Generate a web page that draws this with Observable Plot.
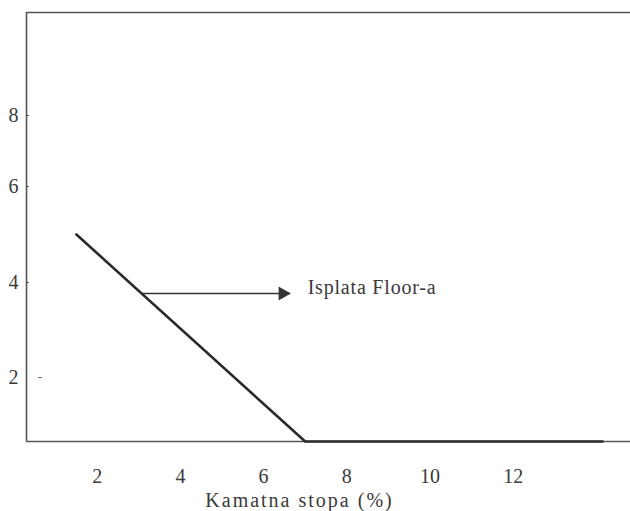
<!DOCTYPE html>
<html>
<head>
<meta charset="utf-8">
<script src="https://cdn.jsdelivr.net/npm/d3@7"></script>
<script src="https://cdn.jsdelivr.net/npm/@observablehq/plot@0.6"></script>
<style>
  html, body { margin: 0; padding: 0; background: white; }
</style>
</head>
<body>
<div id="chart"></div>
<script>
// Payoff of the floor vs. interest rate
const rates = [1.5, 7, 14.15];
const payoff = [5, 0, 0];

// Axis ticks
const xTicks = [2, 4, 6, 8, 10, 12];
const yTickLabels = [2, 4, 6, 8];
const yTickMarks = [4, 6, 8];
const yDash = [2];

// Annotation arrow
const arrowX1 = [3.06];
const arrowX2 = [6.65];
const arrowY = [3.77];
const arrowText = ["Isplata Floor-a"];

const xLabel = "Kamatna stopa (%)";

const lineData = rates.map((r, i) => ({rate: r, pay: payoff[i]}));
const arrowData = arrowX1.map((x1, i) => ({x1, x2: arrowX2[i], y: arrowY[i], text: arrowText[i]}));

const ink = "#333";
const frameInk = "#555";

const svg = Plot.plot({
  width: 630,
  height: 511,
  marginLeft: 26,
  marginRight: 0,
  marginTop: 12,
  marginBottom: 70,
  style: {fontFamily: "'Liberation Serif', 'DejaVu Serif', serif", fontSize: "20px", color: "#3a3a3a", background: "white"},
  x: {type: "linear", domain: [0.3, 14.82]},
  y: {type: "linear", domain: [0, 2, 4, 6, 8, 10], range: [441, 377, 282, 186, 115, 12]},
  marks: [
    Plot.ruleY([0, 10], {stroke: frameInk, strokeWidth: 1.6}),
    Plot.ruleX([0.3], {stroke: frameInk, strokeWidth: 1.6}),
    Plot.line(lineData, {x: "rate", y: "pay", stroke: "#2a2a2a", strokeWidth: 2.6}),
    Plot.ruleY(arrowData, {x1: "x1", x2: "x2", y: "y", stroke: ink, strokeWidth: 1.6}),
    Plot.dot(arrowData, {x: "x2", y: "y", symbol: "triangle", rotate: 90, r: 5.2, fill: ink, stroke: "none", dx: -8}),
    Plot.text(arrowData, {x: "x2", y: "y", text: "text", textAnchor: "start", dx: 17, dy: -6, fontSize: 20, fill: "#3a3a3a"}),
    Plot.axisY({ticks: yTickLabels, tickSize: 0, tickPadding: 8, label: null, fontSize: 20}),
    Plot.axisY({ticks: yTickMarks, tickSize: 3, dx: 3, tickFormat: () => "", label: null, stroke: frameInk}),
    Plot.axisY({ticks: yDash, tickSize: 4, dx: 16, tickFormat: () => "", label: null, stroke: "#777"}),
    Plot.axisX({ticks: xTicks, tickSize: 0, tickPadding: 27, label: null, fontSize: 20}),
    Plot.text([xLabel], {text: d => d, frameAnchor: "bottom", lineAnchor: "bottom", dx: -29, dy: 65, fontSize: 20, fill: "#3a3a3a"})
  ]
});

d3.select(svg).selectAll("text").each(function() {
  const t = this.textContent;
  if (t === xLabel) this.setAttribute("letter-spacing", "2px");
  else if (t === arrowText[0]) this.setAttribute("letter-spacing", "0.8px");
});

document.getElementById("chart").appendChild(svg);
</script>
</body>
</html>
